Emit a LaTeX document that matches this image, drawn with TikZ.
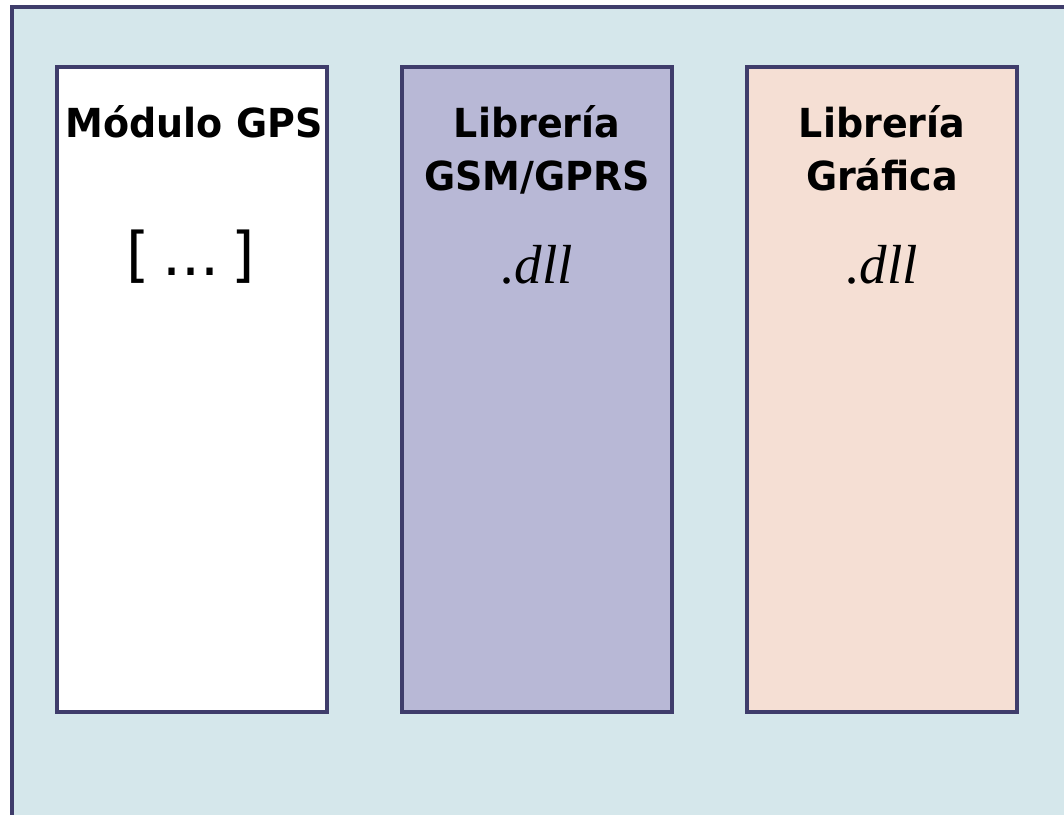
\documentclass[tikz,border=0pt]{standalone}
\usepackage{fontspec}
\setmainfont{Liberation Serif}
\setsansfont{DejaVu Sans}
\newfontfamily\titlefont[FakeStretch=0.95]{DejaVu Sans}
\definecolor{bgblue}{HTML}{D5E7EB}
\definecolor{edge}{HTML}{3F3D6B}
\definecolor{lavender}{HTML}{B8B8D6}
\definecolor{peach}{HTML}{F5DFD4}
\tikzset{
  colbox/.style={draw=edge, line width=4.5pt, minimum width=270pt, minimum height=645pt, inner sep=0pt},
  title/.style={font=\titlefont\bfseries\fontsize{40}{48}\selectfont, anchor=base, inner sep=0pt},
  ext/.style={font=\itshape\fontsize{55}{60}\selectfont, anchor=base, inner sep=0pt},
  dots/.style={font=\sffamily\fontsize{60}{62}\selectfont, anchor=base, inner sep=0pt}
}
\begin{document}
\begin{tikzpicture}[x=1pt,y=-1pt]
\useasboundingbox (0,0) rectangle (1064,814);
\clip (0,0) rectangle (1064,814);
\draw[draw=edge, fill=bgblue, line width=4.5pt] (12,7) rectangle (1090,840);
\node[colbox, fill=white] (gps) at (192,389.5) {};
\node[colbox, fill=lavender] (gsm) at (537,389.5) {};
\node[colbox, fill=peach] (graf) at (882,389.5) {};
\node[title] (t1) at (194,137) {Módulo GPS};
\node[dots] (d1) at (191,275) {[\kern12pt...\kern12pt]};
\node[title] (t2a) at (537,137) {Librería};
\node[title] (t2b) at (537,190) {GSM/GPRS};
\node[ext] (e2) at (537,283) {.dll};
\node[title] (t3a) at (882,137) {Librería};
\node[title] (t3b) at (882,190) {Gráfica};
\node[ext] (e3) at (882,283) {.dll};
\end{tikzpicture}
\end{document}
